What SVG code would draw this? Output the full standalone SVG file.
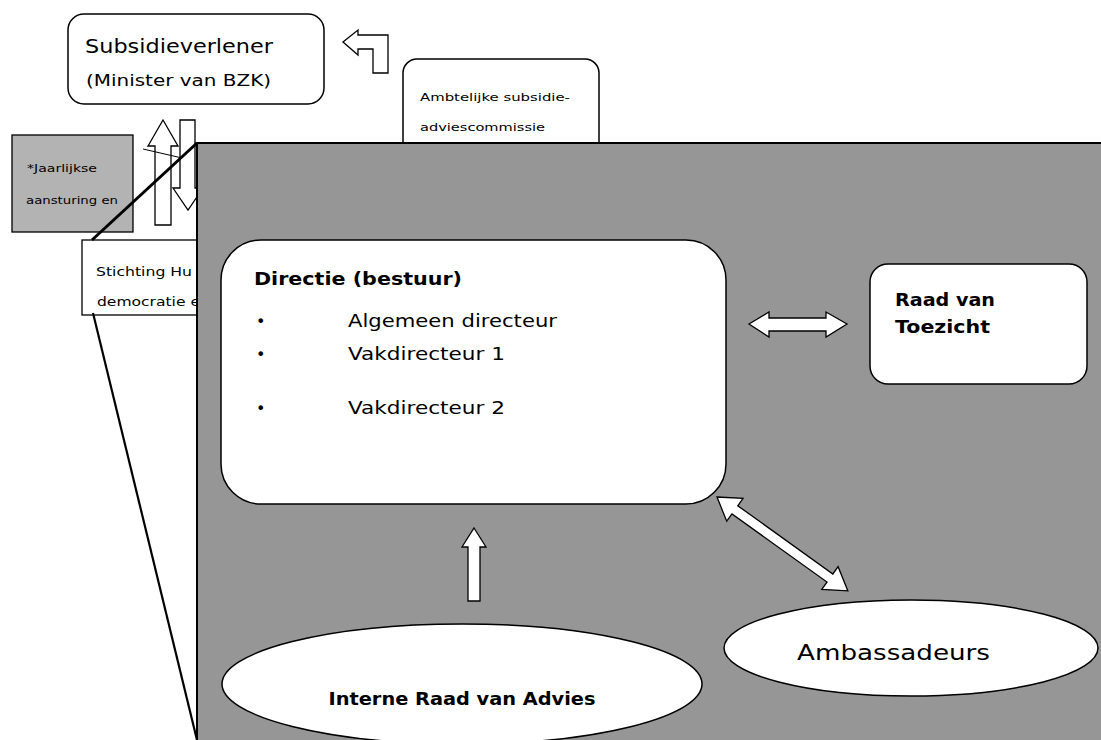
<svg xmlns="http://www.w3.org/2000/svg" width="1101" height="740" viewBox="0 0 1101 740">
<style>
text{font-family:"DejaVu Sans","Liberation Sans",sans-serif;fill:#000}
.b{font-weight:bold}
.box{fill:#fff;stroke:#000;stroke-width:1.5}
.arr{fill:#fff;stroke:#000;stroke-width:1.3;stroke-linejoin:miter}
</style>
<rect width="1101" height="740" fill="#fff"/>
<g id="subsidieverlener">
<rect class="box" x="68" y="14" width="256" height="90" rx="16"/>
<text x="85" y="53" font-size="19" textLength="188" lengthAdjust="spacingAndGlyphs">Subsidieverlener</text>
<text x="86" y="86" font-size="16" textLength="185" lengthAdjust="spacingAndGlyphs">(Minister van BZK)</text>
</g>
<g id="ambtelijke">
<rect class="box" x="403" y="59" width="196" height="100" rx="14"/>
<text x="420" y="101" font-size="11" textLength="150" lengthAdjust="spacingAndGlyphs">Ambtelijke subsidie-</text>
<text x="420" y="131" font-size="11" textLength="125" lengthAdjust="spacingAndGlyphs">adviescommissie</text>
</g>
<g id="jaarlijkse">
<rect x="12" y="135" width="121" height="97" fill="#b3b3b3" stroke="#000" stroke-width="1.3"/>
<text x="27" y="172" font-size="11" textLength="70" lengthAdjust="spacingAndGlyphs">*Jaarlijkse</text>
<text x="26" y="204" font-size="11" textLength="92" lengthAdjust="spacingAndGlyphs">aansturing en</text>
</g>
<g id="connectors-top">
<path class="arr" d="M343,42 L358,30 L358,35 L388,35 L388,73 L373,73 L373,49 L358,49 L358,55 Z"/>
<path class="arr" d="M163,120 L178,146 L171,146 L171,225 L155,225 L155,146 L148,146 Z"/>
<path class="arr" d="M180,120 L195,120 L195,188 L203,188 L188,210 L173,188 L180,188 Z"/>
<line x1="143" y1="149" x2="182" y2="158" stroke="#000" stroke-width="1"/>
</g>
<g id="stichting">
<rect x="82" y="240" width="130" height="75" fill="#fff" stroke="#000" stroke-width="1.3"/>
<text x="96" y="276" font-size="13" textLength="96" lengthAdjust="spacingAndGlyphs">Stichting Hu</text>
<text x="97" y="306" font-size="13" textLength="103" lengthAdjust="spacingAndGlyphs">democratie e</text>
</g>
<g id="organisatie">
<rect x="197" y="143" width="910" height="605" fill="#969696" stroke="#000" stroke-width="2"/>
</g>
<g id="lines">
<line x1="92" y1="240" x2="197" y2="143" stroke="#000" stroke-width="3"/>
<line x1="93" y1="313" x2="197" y2="740" stroke="#000" stroke-width="2.2"/>
</g>
<g id="directie">
<rect class="box" x="221" y="240" width="505" height="264" rx="40"/>
<text class="b" x="254" y="285" font-size="17" textLength="208" lengthAdjust="spacingAndGlyphs">Directie (bestuur)</text>
<text x="256" y="327" font-size="16">•</text>
<text x="348" y="327" font-size="17" textLength="209" lengthAdjust="spacingAndGlyphs">Algemeen directeur</text>
<text x="256" y="360" font-size="16">•</text>
<text x="348" y="360" font-size="17" textLength="157" lengthAdjust="spacingAndGlyphs">Vakdirecteur 1</text>
<text x="256" y="414" font-size="16">•</text>
<text x="348" y="414" font-size="17" textLength="157" lengthAdjust="spacingAndGlyphs">Vakdirecteur 2</text>
</g>
<g id="raad-van-toezicht">
<rect class="box" x="870" y="264" width="217" height="120" rx="18"/>
<text class="b" x="895" y="306" font-size="18" textLength="100" lengthAdjust="spacingAndGlyphs">Raad van</text>
<text class="b" x="895" y="333" font-size="18" textLength="95" lengthAdjust="spacingAndGlyphs">Toezicht</text>
</g>
<g id="interne-raad">
<ellipse class="box" cx="462" cy="684" rx="240" ry="60"/>
<text class="b" x="462" y="705" font-size="17" text-anchor="middle" textLength="267" lengthAdjust="spacingAndGlyphs">Interne Raad van Advies</text>
</g>
<g id="ambassadeurs">
<ellipse class="box" cx="911" cy="648" rx="187" ry="48"/>
<text x="797" y="660" font-size="22" textLength="193" lengthAdjust="spacingAndGlyphs">Ambassadeurs</text>
</g>
<g id="connectors">
<path class="arr" d="M749,324 L769,312 L769,318 L826,318 L826,312 L847,324 L826,337 L826,331 L769,331 L769,337 Z"/>
<path class="arr" d="M474,528 L486,547 L480,547 L480,601 L468,601 L468,547 L462,547 Z"/>
<path class="arr" transform="translate(717,497) rotate(35.66)" d="M0,0 L22,-14 L22,-5 L139,-5 L139,-14 L161,0 L139,14 L139,5 L22,5 L22,14 Z"/>
</g>
</svg>
